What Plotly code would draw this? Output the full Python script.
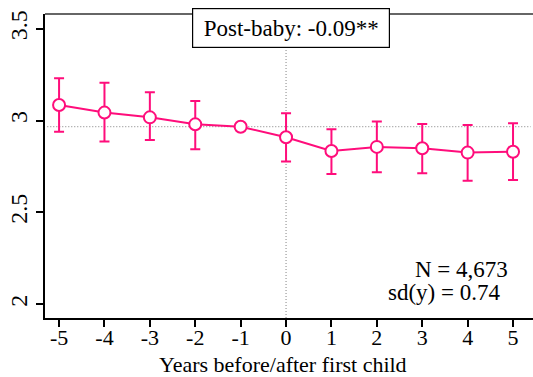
import plotly.graph_objects as go

# Event-study estimates around the birth of the first child
years = [-5, -4, -3, -2, -1, 0, 1, 2, 3, 4, 5]
estimate = [3.085, 3.044, 3.018, 2.980, 2.967, 2.910, 2.835, 2.857, 2.850, 2.826, 2.831]
ci_upper = [3.231, 3.207, 3.155, 3.107, None, 3.040, 2.953, 2.995, 2.982, 2.977, 2.986]
ci_lower = [2.940, 2.886, 2.895, 2.844, None, 2.777, 2.710, 2.719, 2.713, 2.672, 2.677]
baseline = 2.967

x_ticks = [-5, -4, -3, -2, -1, 0, 1, 2, 3, 4, 5]
x_tick_text = ["-5", "-4", "-3", "-2", "-1", "0", "1", "2", "3", "4", "5"]
y_ticks = [2, 2.5, 3, 3.5]
y_tick_text = ["2", "2.5", "3", "3.5"]

PINK = "#ff0d7b"
SERIF = "Liberation Serif"
AX_SIZE = 22
NOTE_SIZE = 23

err_plus = [(u - e) if u is not None else 0 for u, e in zip(ci_upper, estimate)]
err_minus = [(e - l) if l is not None else 0 for l, e in zip(ci_lower, estimate)]

X_MIN, X_MAX = -5.31, 5.44
Y_MIN, Y_MAX = 1.925, 3.581

fig = go.Figure()

# baseline and event-time reference lines
fig.add_trace(go.Scatter(
    x=[X_MIN + 0.05, X_MAX - 0.05], y=[baseline, baseline], mode="lines",
    line=dict(color="#999999", width=1.2, dash="1px,2px"), hoverinfo="skip", showlegend=False))
fig.add_trace(go.Scatter(
    x=[0, 0], y=[Y_MIN, Y_MAX], mode="lines",
    line=dict(color="#999999", width=1.2, dash="1px,2px"), hoverinfo="skip", showlegend=False))

fig.add_trace(go.Scatter(
    x=years, y=estimate, mode="lines+markers",
    line=dict(color=PINK, width=2),
    marker=dict(symbol="circle", size=12, color="white", line=dict(color=PINK, width=2)),
    error_y=dict(type="data", symmetric=False, array=err_plus, arrayminus=err_minus,
                 color=PINK, thickness=2, width=5),
    showlegend=False))

fig.update_xaxes(
    range=[X_MIN, X_MAX], tickvals=x_ticks, ticktext=x_tick_text,
    showgrid=False, zeroline=False, showline=True, linecolor="black", linewidth=1.5,
    ticks="outside", ticklen=7, tickwidth=1.5, tickcolor="black",
    ticklabelstandoff=-8,
    tickfont=dict(family=SERIF, size=AX_SIZE, color="black"))
fig.update_yaxes(
    range=[Y_MIN, Y_MAX], tickvals=y_ticks, ticktext=y_tick_text, tickangle=-90,
    showgrid=False, zeroline=False, showline=True, linecolor="black", linewidth=1.5,
    ticks="outside", ticklen=7, tickwidth=1.5, tickcolor="black",
    tickfont=dict(family=SERIF, size=24, color="black"))

# top border of the plotting box
fig.add_shape(type="line", xref="paper", yref="paper", x0=0, x1=1, y0=1, y1=1,
              line=dict(color="#333333", width=1.5))

# x-axis title
fig.add_annotation(
    x=0.4877, y=-0.154, xref="paper", yref="paper", text="Years before/after first child",
    showarrow=False, xanchor="center", yanchor="middle",
    font=dict(family=SERIF, size=AX_SIZE, color="black"))

fig.add_annotation(
    x=0.11, y=0.954, xref="x", yref="paper", text="Post-baby: -0.09**",
    showarrow=False, xanchor="center", yanchor="middle",
    width=184, height=26,
    bordercolor="black", borderwidth=1.2, borderpad=6, bgcolor="white",
    font=dict(family=SERIF, size=NOTE_SIZE, color="black"))
fig.add_annotation(
    x=4.93, y=2.187, xref="x", yref="y", text="N = 4,673", showarrow=False,
    xanchor="right", yanchor="middle", font=dict(family=SERIF, size=NOTE_SIZE, color="black"))
fig.add_annotation(
    x=4.757, y=2.062, xref="x", yref="y", text="sd(y) = 0.74", showarrow=False,
    xanchor="right", yanchor="middle", font=dict(family=SERIF, size=NOTE_SIZE, color="black"))

fig.update_layout(
    width=533, height=377,
    margin=dict(l=45, r=0, t=14, b=59),
    font=dict(family=SERIF),
    plot_bgcolor="white", paper_bgcolor="white")

fig.write_html("out.html")
